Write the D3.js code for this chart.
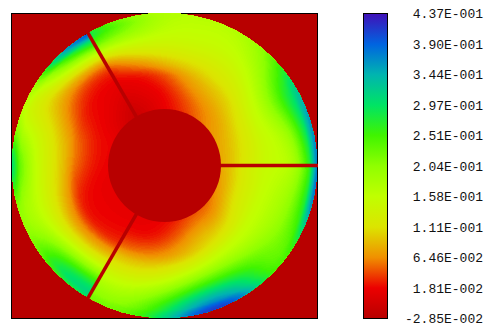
<!DOCTYPE html>
<html>
<head>
<meta charset="utf-8">
<script src="https://cdn.jsdelivr.net/npm/d3@7"></script>
<style>
html, body { margin: 0; padding: 0; background: #fff; }
svg { display: block; }
</style>
</head>
<body>
<div id="vis"></div>
<script>
// radii of the samples
let radii = [50, 60, 75, 90, 100, 115, 130, 145, 152, 162]

// angles in degrees, counter clockwise from east. 119/121 and 239/241 sit either side of a slit
let angles = [0, 15, 30, 45, 60, 75, 90, 105, 119, 121, 135, 150, 165, 180, 195, 210, 225, 239, 241, 255, 270, 285, 300, 315, 330, 345, 360]

// one row per angle, one value per radius
let values = [
    [.08, .08, .11, .135, .15, .16, .17, .27, .39, .40],
    [.075, .08, .105, .13, .145, .16, .19, .30, .38, .39],
    [.07, .075, .095, .13, .15, .19, .26, .32, .34, .35],
    [.06, .065, .08, .105, .12, .15, .17, .21, .22, .23],
    [.045, .05, .07, .095, .11, .13, .15, .16, .165, .17],
    [.03, .03, .05, .08, .095, .135, .155, .165, .17, .17],
    [.018, .018, .02, .04, .085, .13, .155, .165, .17, .17],
    [.0, .0, .012, .017, .04, .12, .17, .24, .2, .2],
    [-.01, -.01, 0, .015, .018, .05, .16, .28, .28, .28],
    [-.01, -.01, 0, .015, .018, .04, .15, .32, .41, .42],
    [-.005, 0, .015, .018, .018, .04, .12, .27, .37, .38],
    [.015, .018, .02, .025, .035, .07, .085, .12, .15, .15],
    [.018, .02, .03, .06, .085, .12, .15, .15, .17, .17],
    [.018, .018, .03, .06, .09, .13, .16, .27, .38, .40],
    [.015, .015, .018, .03, .075, .12, .155, .17, .18, .18],
    [.015, .015, .018, .02, .05, .11, .16, .2, .21, .21],
    [.015, .015, .018, .025, .06, .12, .23, .33, .27, .24],
    [.015, .015, .02, .03, .07, .13, .23, .33, .30, .27],
    [.015, .015, .02, .05, .09, .13, .17, .21, .225, .225],
    [.015, .015, .02, .06, .09, .13, .17, .2, .22, .22],
    [.018, .02, .035, .07, .1, .15, .22, .29, .31, .32],
    [.03, .035, .065, .09, .115, .19, .29, .39, .44, .45],
    [.045, .05, .085, .11, .14, .2, .28, .37, .41, .42],
    [.045, .05, .08, .12, .15, .18, .23, .22, .22, .22],
    [.06, .065, .11, .14, .155, .175, .2, .235, .26, .27],
    [.07, .075, .115, .14, .155, .175, .2, .28, .42, .43],
    [.08, .08, .115, .14, .15, .16, .17, .25, .39, .41]
]

// colour legend
let legendValues = [-.0285, .0181, .0646, .111, .158, .204, .251, .297, .344, .390, .437]
let legendColors = ['#b80000', '#ec0000', '#f09000', '#dce400', '#c0ff00', '#90ff00', '#40f400', '#00e464', '#00b4b0', '#0064e0', '#4010b8']
let tickLabels = ['-2.85E-002', '1.81E-002', '6.46E-002', '1.11E-001', '1.58E-001', '2.04E-001', '2.51E-001', '2.97E-001', '3.44E-001', '3.90E-001', '4.37E-001']

let slitAngles = [0, 120, 240]

let width = 496
let height = 331
let cx = 164.5
let cy = 165.5
let outerR = 152.5
let innerR = 56.5
let dark = '#b80000'

let svg = d3.select('#vis')
    .append('svg')
    .attr('width', width)
    .attr('height', height)

let color = d3.scaleLinear().domain(legendValues).range(legendColors)

// the field jumps at the slits, so each of the three sectors gets its own spline
let sectors = [[0, 8], [9, 17], [18, 26]]
let stepsPerCell = 4
let radialSteps = (radii.length - 1) * stepsPerCell + 1

// only for drawing: smooth the read values so the contour lines don't kink at the samples
let radialSplines = values.map(col => d3.interpolateBasis(col))
let fineAngles = []
let fineColumns = []
sectors.forEach(s => {
    let n = (s[1] - s[0]) * stepsPerCell
    d3.range(n + 1).forEach(k => {
        let t = k / n
        let pos = s[0] + t * (s[1] - s[0])
        fineAngles.push(d3.scaleLinear().domain(d3.range(angles.length)).range(angles)(pos))
        fineColumns.push({ sector: s, t: t })
    })
})

let grid = []
d3.range(radialSteps).forEach(j => {
    let u = j / (radialSteps - 1)
    let ring = values.map((col, i) => radialSplines[i](u))
    let rowSplines = sectors.map(s => d3.interpolateBasis(ring.slice(s[0], s[1] + 1)))
    fineColumns.forEach(c => {
        grid.push(rowSplines[sectors.indexOf(c.sector)](c.t))
    })
})

// grid index -> angle / radius
let angleScale = d3.scaleLinear().domain(d3.range(fineAngles.length)).range(fineAngles)
let radiusScale = d3.scaleLinear()
    .domain(radii.map((r, i) => i * stepsPerCell))
    .range(radii)

function polar(deg, r) {
    let t = deg * Math.PI / 180
    return [cx + r * Math.cos(t), cy - r * Math.sin(t)]
}

let project = d3.geoTransform({
    point: function (x, y) {
        let p = polar(angleScale(x - 0.5), radiusScale(y - 0.5))
        this.stream.point(p[0], p[1])
    }
})

// plot background
svg.append('rect')
    .attr('x', 11.5)
    .attr('y', 13.5)
    .attr('width', 305.5)
    .attr('height', 305)
    .attr('fill', dark)
    .attr('stroke', 'black')
    .attr('stroke-width', 1)
    .attr('shape-rendering', 'crispEdges')

svg.append('clipPath')
    .attr('id', 'disc')
    .append('circle')
    .attr('cx', cx)
    .attr('cy', cy)
    .attr('r', outerR)

let thresholds = d3.range(-.028, .437, .003)
let contours = d3.contours()
    .size([fineAngles.length, radialSteps])
    .thresholds(thresholds)(grid)

svg.append('circle')
    .attr('cx', cx)
    .attr('cy', cy)
    .attr('r', outerR)
    .attr('fill', color(d3.min(grid)))

svg.append('g')
    .attr('clip-path', 'url(#disc)')
    .selectAll('path')
    .data(contours)
    .join('path')
    .attr('d', d3.geoPath(project))
    .attr('fill', d => color(d.value))
    .attr('shape-rendering', 'crispEdges')

// centre disc and the three slits
svg.append('circle')
    .attr('cx', cx)
    .attr('cy', cy)
    .attr('r', innerR)
    .attr('fill', dark)

svg.selectAll('.slit')
    .data(slitAngles)
    .join('line')
    .attr('class', 'slit')
    .attr('x1', d => polar(d, innerR - 2)[0])
    .attr('y1', d => polar(d, innerR - 2)[1])
    .attr('x2', d => polar(d, outerR + 1)[0])
    .attr('y2', d => polar(d, outerR + 1)[1])
    .attr('stroke', dark)
    .attr('stroke-width', 3.5)

// colour bar
let barY = d3.scaleLinear().domain([legendValues[0], legendValues[10]]).range([318.5, 13.5])

let defs = svg.append('defs')
let grad = defs.append('linearGradient')
    .attr('id', 'bar')
    .attr('x1', 0).attr('y1', 1)
    .attr('x2', 0).attr('y2', 0)
grad.selectAll('stop')
    .data(legendValues)
    .join('stop')
    .attr('offset', d => (d - legendValues[0]) / (legendValues[10] - legendValues[0]))
    .attr('stop-color', d => color(d))

svg.append('rect')
    .attr('x', 363.5)
    .attr('y', 13.5)
    .attr('width', 24)
    .attr('height', 305)
    .attr('fill', 'url(#bar)')
    .attr('stroke', 'black')
    .attr('stroke-width', 1)
    .attr('shape-rendering', 'crispEdges')

let axis = d3.axisRight(barY)
    .tickValues(legendValues)
    .tickSize(0)
    .tickFormat((d, i) => tickLabels[i])

let axisG = svg.append('g')
    .attr('transform', 'translate(483,0)')
    .call(axis)
axisG.select('.domain').remove()
axisG.selectAll('text')
    .attr('x', 0)
    .attr('text-anchor', 'end')
    .attr('fill', '#111')
    .style('font-family', '"Liberation Mono", monospace')
    .style('font-size', '13px')
</script>
</body>
</html>
